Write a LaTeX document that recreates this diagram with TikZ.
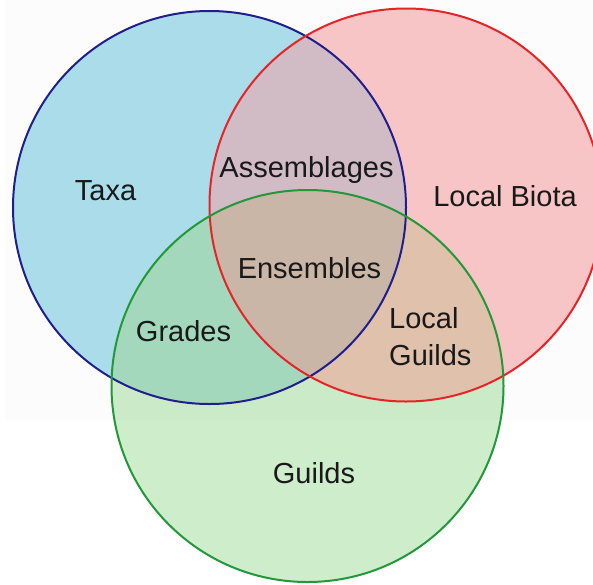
\documentclass[tikz,border=0pt]{standalone}
\usepackage{fontspec}
\setmainfont{Liberation Sans}
\definecolor{bOnly}{RGB}{174,223,236}
\definecolor{rOnly}{RGB}{250,200,200}
\definecolor{gOnly}{RGB}{206,237,202}
\definecolor{brCol}{RGB}{212,191,200}
\definecolor{bgCol}{RGB}{166,219,192}
\definecolor{rgCol}{RGB}{227,196,175}
\definecolor{brgCol}{RGB}{205,185,169}
\definecolor{bLine}{RGB}{32,30,140}
\definecolor{rLine}{RGB}{230,36,40}
\definecolor{gLine}{RGB}{34,152,58}
\tikzset{
  lbl/.style={inner sep=0pt, anchor=base, font=\fontsize{29}{37}\selectfont, text=black!90},
  ring/.style={line width=2pt}
}
\begin{document}
\begin{tikzpicture}[x=1pt,y=-1pt]
\useasboundingbox (0,0) rectangle (593,584);
\coordinate (cb) at (209.5,207.5);
\coordinate (cr) at (406,205);
\coordinate (cg) at (307.5,386);
\def\rb{196.5}\def\rr{196.5}\def\rg{196}
% single fills
\fill[bOnly] (cb) circle (\rb);
\fill[rOnly] (cr) circle (\rr);
\fill[gOnly] (cg) circle (\rg);
% pairwise
\begin{scope}\clip (cb) circle (\rb); \fill[brCol] (cr) circle (\rr); \fill[bgCol] (cg) circle (\rg); \end{scope}
\begin{scope}\clip (cr) circle (\rr); \fill[rgCol] (cg) circle (\rg); \end{scope}
\begin{scope}\clip (cb) circle (\rb); \clip (cr) circle (\rr); \fill[brgCol] (cg) circle (\rg); \end{scope}
% faint upper band
\fill[black, opacity=0.012] (5,0) rectangle (593,420);
% outlines
\draw[ring, bLine] (cb) circle (\rb);
\draw[ring, rLine] (cr) circle (\rr);
\draw[ring, gLine] (cg) circle (\rg);
% labels
\node[lbl] (taxa) at (105.5,200) {Taxa};
\node[lbl] (assem) at (306.5,177) {Assemblages};
\node[lbl] (biota) at (505,206) {Local Biota};
\node[lbl] (ens) at (309.5,278.5) {Ensembles};
\node[lbl] (grades) at (183.5,341.7) {Grades};
\node[lbl, anchor=base west, align=left] (lguilds) at (389,365) {Local\\Guilds};
\node[lbl] (guilds) at (314,483.3) {Guilds};
\end{tikzpicture}
\end{document}
